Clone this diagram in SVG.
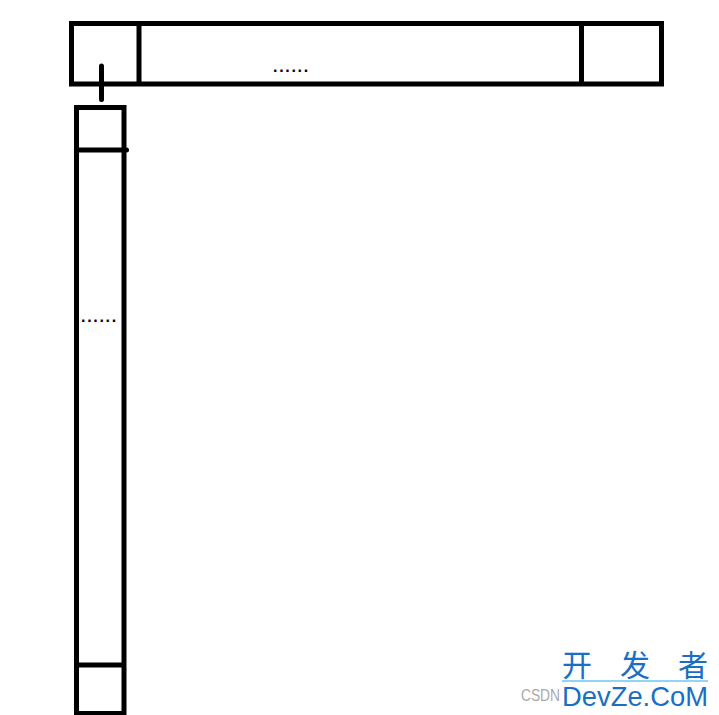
<svg xmlns="http://www.w3.org/2000/svg" width="719" height="715" viewBox="0 0 719 715">
<style>
.b{fill:none;stroke:#000;stroke-width:5}
.l{stroke:#000;stroke-width:5;stroke-linecap:round}
.d{font-family:"Liberation Sans",Arial,sans-serif;font-size:16px;font-weight:bold;letter-spacing:1.7px;fill:#000}
.wm{font-family:"Liberation Sans","Noto Sans CJK SC",sans-serif;fill:#1a6fc4}
</style>
<rect width="719" height="715" fill="#fff"/>
<g id="top">
<rect class="b" x="71.5" y="23.5" width="590" height="60.5"/>
<line class="l" x1="139" y1="23.5" x2="139" y2="84" style="stroke-linecap:butt"/>
<line class="l" x1="581.5" y1="23.5" x2="581.5" y2="84" style="stroke-linecap:butt"/>
<text class="d" x="273" y="72">......</text>
</g>
<g id="left">
<rect class="b" x="76.5" y="107.5" width="47.5" height="606"/>
<line class="l" x1="76.5" y1="150" x2="126.5" y2="150"/>
<line class="l" x1="76.5" y1="665" x2="124" y2="665" style="stroke-linecap:butt"/>
<text class="d" x="81" y="322">......</text>
</g>
<g id="connectors">
<line class="l" x1="101.5" y1="66" x2="101.5" y2="99.5"/>
</g>
<g id="watermark">
<text x="521" y="701" font-family="Liberation Sans,sans-serif" font-size="16" fill="#aaa" textLength="39" lengthAdjust="spacingAndGlyphs">CSDN</text>
<text class="wm" x="562" y="676" font-size="30" textLength="146" lengthAdjust="spacing">开发者</text>
<line x1="562" y1="681" x2="708" y2="681" stroke="#6cc7f0" stroke-width="1.5"/>
<text class="wm" x="562" y="706" font-size="28" textLength="146" lengthAdjust="spacingAndGlyphs">DevZe.CoM</text>
</g>
</svg>
